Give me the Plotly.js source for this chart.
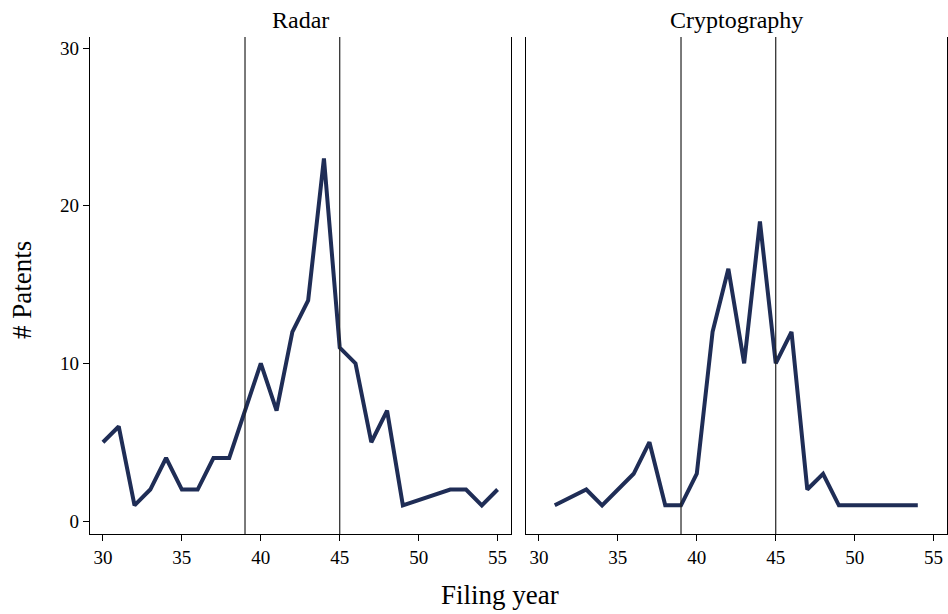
<!DOCTYPE html>
<html>
<head>
<meta charset="utf-8">
<script src="https://cdn.plot.ly/plotly-3.0.1.min.js"></script>
<style>html,body{margin:0;padding:0;background:#fff;}#chart{width:948px;height:614px;}</style>
</head>
<body>
<div id="chart"></div>
<script>
// Radar panel
const radarYears = [30,31,32,33,34,35,36,37,38,39,40,41,42,43,44,45,46,47,48,49,52,53,54,55];
const radarCounts = [5,6,1,2,4,2,2,4,4,7,10,7,12,14,23,11,10,5,7,1,2,2,1,2];
// Cryptography panel
const cryptoYears = [31,33,34,35,36,37,38,39,40,41,42,43,44,45,46,47,48,49,50,51,52,53,54];
const cryptoCounts = [1,2,1,2,3,5,1,1,3,12,16,10,19,10,12,2,3,1,1,1,1,1,1];
// Reference lines (filing years)
const refLines = [39, 45];
const panelTitles = ["Radar", "Cryptography"];
const xTicks = [30,35,40,45,50,55];
const yTicks = [0,10,20,30];

const lineColor = "#1f2d56";
const font = "Liberation Serif, Times New Roman, serif";

const traces = [
  {x: radarYears, y: radarCounts, xaxis: "x", yaxis: "y", type: "scatter", mode: "lines",
   line: {color: lineColor, width: 4}, hoverinfo: "x+y"},
  {x: cryptoYears, y: cryptoCounts, xaxis: "x2", yaxis: "y2", type: "scatter", mode: "lines",
   line: {color: lineColor, width: 4}, hoverinfo: "x+y"}
];

const yBottom = 1 - 534/614, yTop = 1 - 37/614;
const xCommon = {
  range: [29.18, 55.85], tickvals: xTicks, ticks: "outside", ticklen: 6, tickwidth: 1,
  tickcolor: "#000", showline: true, linecolor: "#000", linewidth: 1.3, showgrid: false,
  zeroline: false, tickfont: {family: font, size: 19, color: "#000"}
};
const yCommon = {
  range: [-0.82, 30.7], tickvals: yTicks, showline: true, linecolor: "#000", linewidth: 1.3,
  mirror: true, showgrid: false, zeroline: false, domain: [yBottom, yTop]
};

const shapes = [];
[["x","y"],["x2","y2"]].forEach(([xa, ya]) => {
  refLines.forEach(v => shapes.push({type: "line", xref: xa, yref: ya + " domain",
    x0: v, x1: v, y0: 0, y1: 1, line: {color: "#222", width: 1.2}}));
});

const layout = {
  width: 948, height: 614,
  margin: {l: 0, r: 0, t: 0, b: 0},
  paper_bgcolor: "#fff", plot_bgcolor: "#fff",
  showlegend: false,
  xaxis: Object.assign({}, xCommon, {domain: [90/948, 511/948], anchor: "y"}),
  xaxis2: Object.assign({}, xCommon, {domain: [526/948, 947/948], anchor: "y2"}),
  yaxis: Object.assign({}, yCommon, {anchor: "x", ticks: "outside", ticklen: 6, tickwidth: 1,
    tickcolor: "#000", tickfont: {family: font, size: 19, color: "#000"}}),
  yaxis2: Object.assign({}, yCommon, {anchor: "x2", ticks: "", showticklabels: false}),
  shapes: shapes,
  annotations: [
    {text: panelTitles[0], xref: "paper", yref: "paper", x: (90+511)/2/948, y: 1 - 20/614,
     showarrow: false, font: {family: font, size: 24, color: "#000"}, xanchor: "center", yanchor: "middle"},
    {text: panelTitles[1], xref: "paper", yref: "paper", x: (526+947)/2/948, y: 1 - 20/614,
     showarrow: false, font: {family: font, size: 24, color: "#000"}, xanchor: "center", yanchor: "middle"},
    {text: "Filing year", xref: "paper", yref: "paper", x: 500/948, y: 1 - 595/614,
     showarrow: false, font: {family: font, size: 27, color: "#000"}, xanchor: "center", yanchor: "middle"},
    {text: "# Patents", xref: "paper", yref: "paper", x: 22/948, y: 1 - 290/614, textangle: -90,
     showarrow: false, font: {family: font, size: 27, color: "#000"}, xanchor: "center", yanchor: "middle"}
  ]
};

Plotly.newPlot("chart", traces, layout, {displayModeBar: false, staticPlot: true});
</script>
</body>
</html>
